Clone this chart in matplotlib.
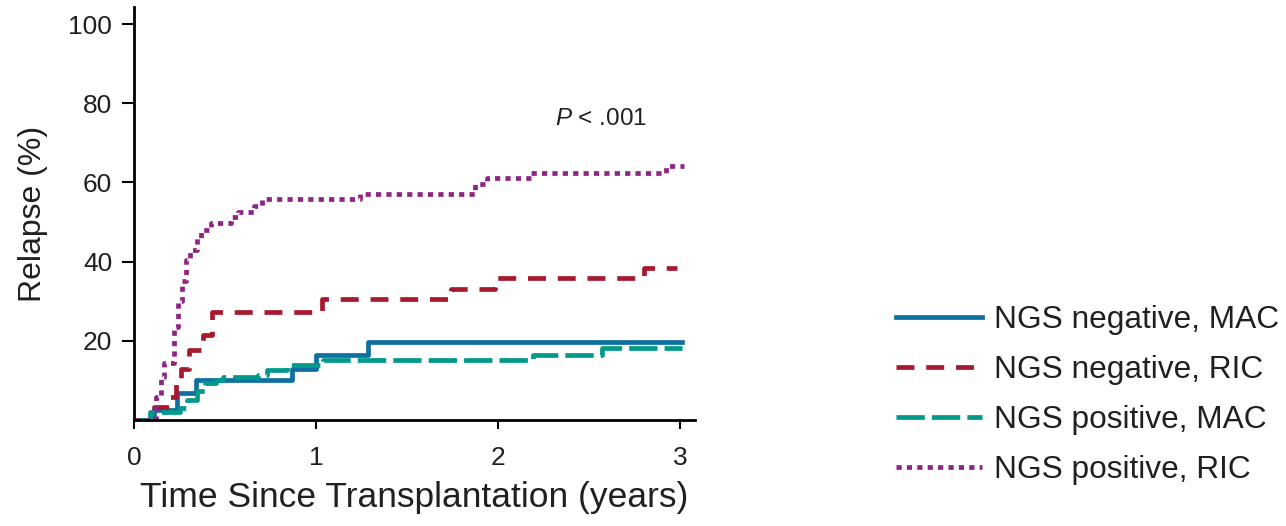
import matplotlib
matplotlib.use("Agg")
import matplotlib.pyplot as plt

plt.rcParams.update({
    'font.family': ['Liberation Sans', 'DejaVu Sans'],
    'mathtext.fontset': 'custom',
    'mathtext.rm': 'Liberation Sans',
    'mathtext.it': 'Liberation Sans:italic',
})

# step curves (years, % relapse)
neg_mac_t = [0, 0.11, 0.235, 0.34, 0.87, 1.0, 1.285, 3.01]
neg_mac_y = [0, 2.5, 6.8, 10.1, 13.0, 16.4, 19.8, 19.8]

neg_ric_t = [0, 0.11, 0.20, 0.23, 0.26, 0.30, 0.38, 0.43, 1.03, 1.74, 1.98, 2.80, 2.98]
neg_ric_y = [0, 3.4, 5.9, 9, 13, 17.7, 21.5, 27.4, 30.5, 33.2, 35.8, 38.3, 38.3]

pos_mac_t = [0, 0.09, 0.25, 0.29, 0.345, 0.39, 0.45, 0.49, 0.68, 0.73, 0.84, 1.04, 2.19, 2.57, 3.01]
pos_mac_y = [0, 2.0, 3.0, 5.0, 7.2, 9.3, 10.1, 10.9, 11.4, 12.6, 13.9, 15.1, 16.4, 18.1, 18.1]

pos_ric_t = [0, 0.12, 0.146, 0.163, 0.217, 0.24, 0.265, 0.285, 0.31, 0.345, 0.37, 0.42,
             0.53, 0.57, 0.66, 0.70, 1.24, 1.87, 1.94, 2.18, 2.92, 3.02]
pos_ric_y = [0, 5.9, 10.9, 14.4, 23.6, 30, 35, 40.4, 43, 46, 48, 49.7,
             51.3, 52.6, 54, 55.8, 57.1, 59.5, 61.0, 62.5, 64.1, 64.1]

labels = ['NGS negative, MAC', 'NGS negative, RIC', 'NGS positive, MAC', 'NGS positive, RIC']
xticks = [0, 1, 2, 3]
yticks = [20, 40, 60, 80, 100]

txt = '#231f20'
fig = plt.figure(figsize=(12.86, 5.26), dpi=100)
ax = fig.add_axes([134/1286, 1-420/526, (695-134)/1286, (420-7)/526])

lw = 3.4
h1, = ax.step(neg_mac_t, neg_mac_y, where='post', color='#0e6fa3', lw=lw)
h2, = ax.step(neg_ric_t, neg_ric_y, where='post', color='#a6192e', lw=lw,
              dashes=(3.8, 2.5), dash_capstyle='butt')
h3, = ax.step(pos_mac_t, pos_mac_y, where='post', color='#00998a', lw=lw,
              dashes=(6, 1.5), dash_capstyle='butt')
h4, = ax.step(pos_ric_t, pos_ric_y, where='post', color='#8e2585', lw=lw,
              dashes=(1.1, 1.1), dash_capstyle='butt')

ax.set_xlim(0, 3.08)
ax.set_ylim(0, 104.3)
for s in ['top', 'right']:
    ax.spines[s].set_visible(False)
for s in ['left', 'bottom']:
    ax.spines[s].set_linewidth(2)
    ax.spines[s].set_color('black')

ax.set_xticks(xticks)
ax.set_yticks(yticks)
ax.tick_params(direction='out', width=1.5, labelsize=19, labelcolor=txt)
ax.tick_params(axis='y', length=8.6, pad=7)
ax.tick_params(axis='x', length=6.5, pad=12)
ax.set_xlabel('Time Since Transplantation (years)', fontsize=25.5, color=txt, labelpad=8)
ax.set_ylabel('Relapse (%)', fontsize=23, color=txt, labelpad=15)

ax.text(2.31, 76.0, r'$P$ < .001', fontsize=17.5, color=txt, va='center')

fig.legend([h1, h2, h3, h4], labels, loc='center left',
           bbox_to_anchor=(896/1286, 1-395/526), frameon=False, fontsize=22.8,
           handlelength=2.7, handletextpad=0.4, labelspacing=0.64,
           borderpad=0, borderaxespad=0, labelcolor=txt)

fig.savefig('out.png', dpi=100)
